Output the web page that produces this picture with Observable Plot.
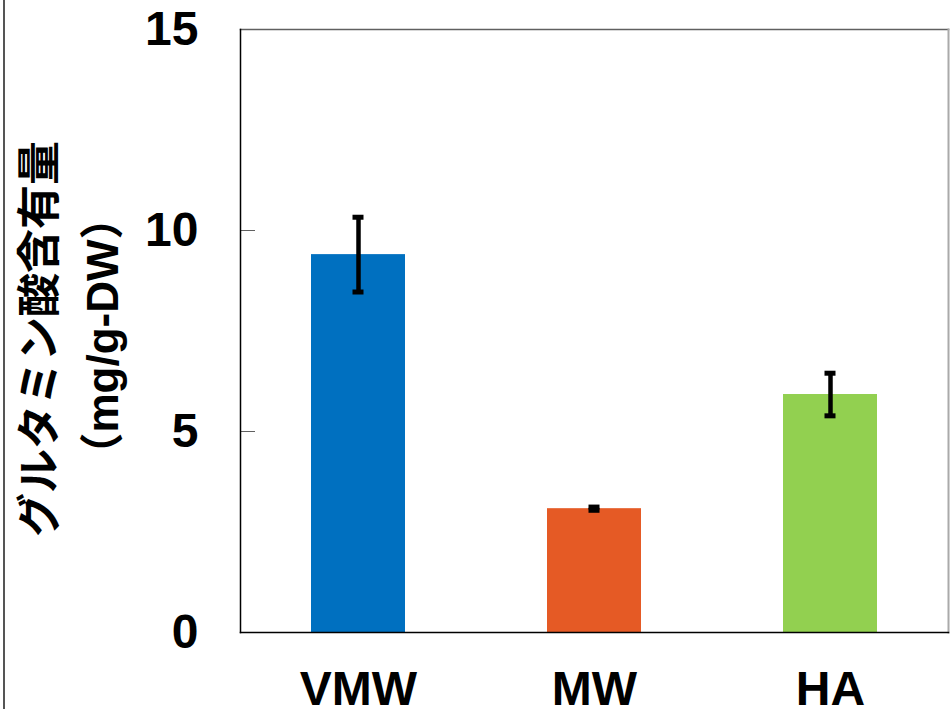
<!DOCTYPE html>
<html><head><meta charset="utf-8">
<script src="https://cdn.jsdelivr.net/npm/d3@7"></script>
<script src="https://cdn.jsdelivr.net/npm/@observablehq/plot@0.6"></script>
<style>
body{margin:0;background:#fff}
#wrap{position:relative;width:951px;height:709px;overflow:hidden}
#edge{position:absolute;left:3px;top:0;width:1.5px;height:709px;background:#555}
</style>
</head><body><div id="wrap"><div id="chart"></div><div id="edge"></div></div>
<script>
const categories = ["VMW", "MW", "HA"];
const means = [9.40, 3.08, 5.92];
const errors = [0.93, 0.04, 0.53];
const colors = ["#0070C0", "#E55A25", "#92D050"];
const yTicks = [0, 5, 10, 15];
const titleLine1 = "グルタミン酸含有量";
const titleLine2 = "（mg/g-DW）";

const data = categories.map((c, i) => ({cat: c, mean: means[i], lo: means[i] - errors[i], hi: means[i] + errors[i]}));
const font = "'Liberation Sans', Arial, 'Noto Sans CJK JP', sans-serif";

const chart = Plot.plot({
  width: 951,
  height: 709,
  marginLeft: 240,
  marginRight: 3,
  marginTop: 29,
  marginBottom: 77,
  style: {fontFamily: font, background: "#fff", color: "#000"},
  x: {type: "band", domain: categories, paddingInner: 0.6, paddingOuter: 0.3},
  y: {domain: [0, 15]},
  color: {domain: categories, range: colors},
  marks: [
    Plot.barY(data, {x: "cat", y: "mean", fill: "cat"}),
    Plot.ruleX(data, {x: "cat", y1: "lo", y2: "hi", stroke: "#000", strokeWidth: 4.5}),
    Plot.tickY(data, {x: "cat", y: "lo", inset: 41.5, stroke: "#000", strokeWidth: 5}),
    Plot.tickY(data, {x: "cat", y: "hi", inset: 41.5, stroke: "#000", strokeWidth: 5}),
    Plot.frame({anchor: "top", stroke: "#606060", strokeWidth: 1.5}),
    Plot.frame({anchor: "right", stroke: "#aaaaaa", strokeWidth: 2}),
    Plot.axisY({ticks: yTicks, tickSize: -15, tickFormat: () => "", stroke: "#606060", label: null}),
    Plot.frame({anchor: "left", stroke: "#000", strokeWidth: 1.5}),
    Plot.frame({anchor: "bottom", stroke: "#000", strokeWidth: 1.5}),
    Plot.axisY({ticks: yTicks, tickSize: 0, tickPadding: 42, fontSize: 48, fontWeight: "bold", label: null}),
    Plot.axisX({tickSize: 0, tickPadding: 38, fontSize: 48, fontWeight: "bold", label: null}),
    Plot.text([titleLine1], {text: d => d, frameAnchor: "left", textAnchor: "middle", rotate: -90, dx: -200, dy: 8, fontSize: 44, fontWeight: "bold", fill: "#000"}),
    Plot.text([titleLine2], {text: d => d, frameAnchor: "left", textAnchor: "middle", rotate: -90, dx: -137, dy: 5, fontSize: 44, fontWeight: "bold", fill: "#000"})
  ]
});
document.getElementById("chart").appendChild(chart);
</script>
</body></html>
